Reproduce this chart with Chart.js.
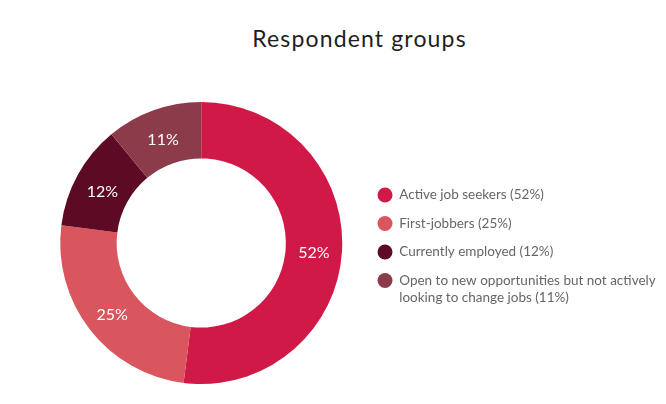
<!DOCTYPE html>
<html>
<head>
<meta charset="utf-8">
<script src="https://cdn.jsdelivr.net/npm/chart.js@4/dist/chart.umd.min.js"></script>
<style>
  html, body { margin: 0; padding: 0; background: #ffffff; }
  #wrap { position: relative; width: 666px; height: 404px; }
  #title { position: absolute; left: 0; top: 22px; width: 719px; text-align: center;
           font-family: Lato, "Noto Sans", sans-serif; font-size: 23px; letter-spacing: 1.15px;
           color: #1e1e1e; line-height: 32px; }
  #c { position: absolute; left: 0; top: 0; }
</style>
</head>
<body>
<div id="wrap">
  <div id="title">Respondent groups</div>
  <canvas id="c" width="666" height="404"></canvas>
</div>
<script>
const categories = [
  ['Active job seekers'],
  ['First-jobbers'],
  ['Currently employed'],
  ['Open to new opportunities but not actively', 'looking to change jobs']
];
const values = [52, 25, 12, 11];
const colors = ['#D11947', '#D9565F', '#5D0A24', '#8C3B4A'];

const FONT = 'Lato, "Noto Sans", sans-serif';
const legendFontSize = 13.5;
const legendPad = 15;
const boxW = 15;

function legendText(i) {
  const lines = categories[i].slice();
  lines[lines.length - 1] += ' (' + values[i] + '%)';
  return lines.length === 1 ? lines[0] : lines;
}

// measure longest legend line to place the legend
const mctx = document.createElement('canvas').getContext('2d');
mctx.font = legendFontSize + 'px ' + FONT;
let maxW = 0;
categories.forEach((c, i) => {
  const t = legendText(i);
  (Array.isArray(t) ? t : [t]).forEach(s => { maxW = Math.max(maxW, mctx.measureText(s).width); });
});
const legendLeft = 362.5;
const legendWidth = legendPad + boxW + legendFontSize / 2 + maxW + 10;
const padRight = 666 - legendLeft - legendWidth;

const sliceLabels = {
  id: 'sliceLabels',
  afterDatasetsDraw(chart) {
    const ctx = chart.ctx;
    const meta = chart.getDatasetMeta(0);
    ctx.save();
    ctx.fillStyle = '#ffffff';
    ctx.font = '16px ' + FONT;
    ctx.textAlign = 'center';
    ctx.textBaseline = 'middle';
    meta.data.forEach((arc, i) => {
      const p = arc.tooltipPosition();
      ctx.fillText(chart.data.datasets[0].data[i] + '%', p.x, p.y + 3);
    });
    ctx.restore();
  }
};

new Chart(document.getElementById('c'), {
  type: 'doughnut',
  data: {
    labels: categories.map(c => c.join(' ')),
    datasets: [{
      data: values,
      backgroundColor: colors,
      borderWidth: 0,
      hoverOffset: 0
    }]
  },
  options: {
    responsive: false,
    animation: false,
    devicePixelRatio: 1,
    cutout: '60%',
    layout: { padding: { top: 102, bottom: 20, left: 40, right: padRight } },
    plugins: {
      tooltip: { enabled: false },
      legend: {
        position: 'right',
        align: 'center',
        title: { display: true, text: '', font: { size: 1, lineHeight: 1 }, padding: { top: 9, bottom: 0 } },
        labels: {
          usePointStyle: true,
          pointStyle: 'circle',
          pointStyleWidth: boxW,
          boxHeight: boxW / Math.SQRT2,
          padding: legendPad,
          color: '#222222',
          font: { family: FONT, size: legendFontSize, lineHeight: 1.26 },
          generateLabels(chart) {
            return values.map((v, i) => ({
              text: legendText(i),
              fillStyle: colors[i],
              strokeStyle: colors[i],
              lineWidth: 0,
              pointStyle: 'circle',
              hidden: false,
              index: i
            }));
          }
        }
      }
    }
  },
  plugins: [sliceLabels]
});
</script>
</body>
</html>
